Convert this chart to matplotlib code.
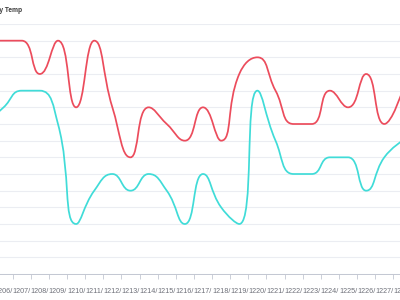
import matplotlib
matplotlib.use('Agg')
import matplotlib.pyplot as plt
from matplotlib.path import Path
from matplotlib.patches import PathPatch

# Data (one entry per day, 12/05 .. 12/28)
dates = ['1205', '1206', '1207', '1208', '1209', '1210', '1211', '1212',
         '1213', '1214', '1215', '1216', '1217', '1218', '1219', '1220',
         '1221', '1222', '1223', '1224', '1225', '1226', '1227', '1228']
high_temp = [14, 14, 14, 12, 14, 10, 14, 10, 7, 10, 9, 8,
             10, 8, 12, 13, 11, 9, 9, 11, 10, 12, 9, 11]
low_temp = [9, 10, 11, 11, 9, 3, 5, 6, 5, 6, 5, 3,
            6, 4, 3, 11, 8, 6, 6, 7, 7, 5, 7, 8]

RED = '#ec4c5c'
CYAN = '#40dcd8'
GRID = '#ebedf2'
AXIS = '#c3c7d2'
LABEL = '#6e7079'

# pixel size of one category / one y unit, used for the smoothing geometry
PX_X = 18.13
PX_Y = 16.67


def smooth_path(xs, ys, smooth=0.5):
    # bezier smoothing in the style of echarts line "smooth: true"
    pts = [(x * PX_X, y * PX_Y) for x, y in zip(xs, ys)]
    n = len(pts)
    cps = []
    for i in range(n):
        x, y = pts[i]
        if i == 0 or i == n - 1:
            cps.append(((x, y), (x, y)))
            continue
        px, py = pts[i - 1]
        nx, ny = pts[i + 1]
        vx, vy = nx - px, ny - py
        lp = ((x - px) ** 2 + (y - py) ** 2) ** 0.5
        ln = ((nx - x) ** 2 + (ny - y) ** 2) ** 0.5
        r = ln / (ln + lp)
        c1x = x + vx * smooth * r
        c1y = y + vy * smooth * r
        c1x = min(max(c1x, min(nx, x)), max(nx, x))
        c1y = min(max(c1y, min(ny, y)), max(ny, y))
        vx, vy = c1x - x, c1y - y
        c0x = x - vx * lp / ln
        c0y = y - vy * lp / ln
        c0x = min(max(c0x, min(px, x)), max(px, x))
        c0y = min(max(c0y, min(py, y)), max(py, y))
        vx, vy = x - c0x, y - c0y
        c1x = x + vx * ln / lp
        c1y = y + vy * ln / lp
        cps.append(((c0x, c0y), (c1x, c1y)))
    verts = [pts[0]]
    codes = [Path.MOVETO]
    for i in range(1, n):
        verts += [cps[i - 1][1], cps[i][0], pts[i]]
        codes += [Path.CURVE4] * 3
    verts = [(vx / PX_X, vy / PX_Y) for vx, vy in verts]
    return Path(verts, codes)


fig = plt.figure(figsize=(4, 3), dpi=100)
# the visible picture is a crop of a wider chart, so the axes run past the edges
ax = fig.add_axes([-23.6 / 400, 26 / 300, 435.1 / 400, 250 / 300])

idx = list(range(len(dates)))
for vals, col in [(high_temp, RED), (low_temp, CYAN)]:
    ax.add_patch(PathPatch(smooth_path(idx, vals), fill=False, edgecolor=col,
                           lw=1.25, capstyle='round', joinstyle='round', zorder=3))

ax.set_xlim(-0.5, len(dates) - 0.5)
ax.set_ylim(0, 15)
ax.set_yticks(range(0, 16))
ax.yaxis.grid(True, color=GRID, lw=0.8)
ax.set_axisbelow(True)
ax.tick_params(axis='y', left=False, labelleft=False)

ax.set_xticks(idx, [d + '/' for d in dates])
ax.set_xticks([i - 0.5 for i in range(len(dates) + 1)], minor=True)
ax.tick_params(axis='x', which='major', length=0, pad=10, labelsize=5.2,
               labelcolor=LABEL)
ax.tick_params(axis='x', which='minor', length=3.6, width=0.6, color=AXIS)
for lab in ax.get_xticklabels():
    lab.set_fontfamily('Liberation Sans')

for s in ['top', 'right', 'left']:
    ax.spines[s].set_visible(False)
ax.spines['bottom'].set_color(AXIS)
ax.spines['bottom'].set_linewidth(0.7)

fig.text(22 / 400, 1 - 10 / 300, 'Daily Temp', ha='right', va='center',
         fontsize=4.8, fontweight='bold', color='#3a3a3a', family='Liberation Sans')

fig.savefig('out.png', dpi=100)
